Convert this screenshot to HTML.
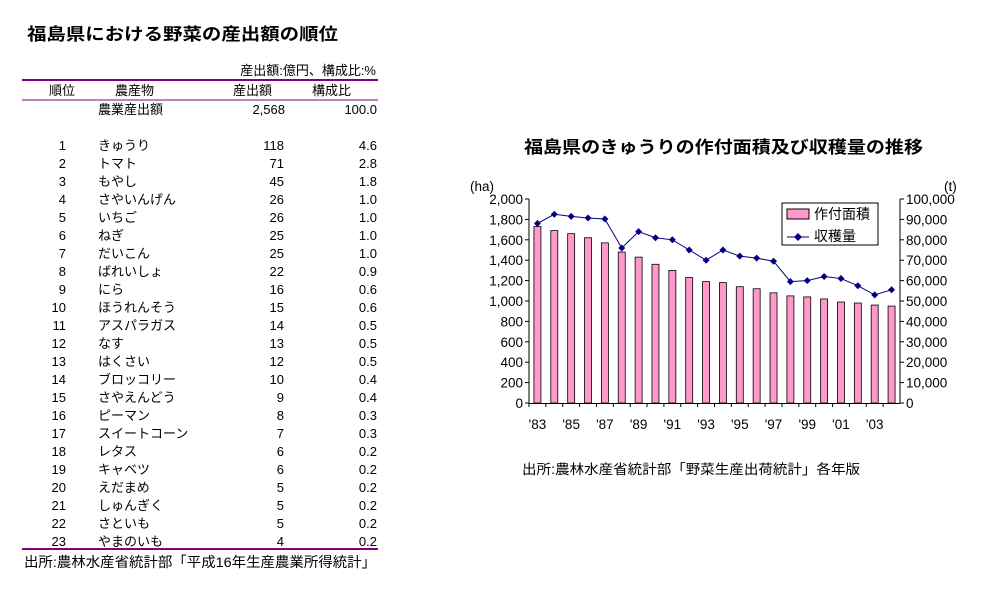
<!DOCTYPE html><html><head><meta charset="utf-8"><style>body{margin:0;background:#fff}svg{display:block}text{font-family:"Liberation Sans","Noto Sans CJK JP",sans-serif;fill:#000}</style></head><body>
<svg width="993" height="601" xmlns="http://www.w3.org/2000/svg">
<rect width="993" height="601" fill="#fff"/>
<text x="27" y="40" font-size="17" font-weight="bold" textLength="311" lengthAdjust="spacingAndGlyphs">福島県における野菜の産出額の順位</text>
<g font-size="13">
<text x="376" y="75" text-anchor="end">産出額:億円、構成比:%</text>
<line x1="22" y1="80" x2="378" y2="80" stroke="#800080" stroke-width="2"/>
<text x="49" y="95">順位</text><text x="115" y="95">農産物</text><text x="233" y="95">産出額</text><text x="312" y="95">構成比</text>
<line x1="22" y1="100" x2="378" y2="100" stroke="#800080" stroke-width="1"/>
<text x="98" y="114">農業産出額</text><text x="285" y="114" text-anchor="end">2,568</text><text x="377" y="114" text-anchor="end">100.0</text>
<g id="rows"></g>
<line x1="22" y1="549" x2="378" y2="549" stroke="#800080" stroke-width="2"/>
<text x="24" y="567" textLength="352" lengthAdjust="spacingAndGlyphs" font-size="14">出所:農林水産省統計部「平成16年生産農業所得統計」</text>
</g>
<text x="524" y="153" font-size="17" font-weight="bold" textLength="399" lengthAdjust="spacingAndGlyphs">福島県のきゅうりの作付面積及び収穫量の推移</text>
<g font-size="13.5">
<text x="470" y="191">(ha)</text><text x="944" y="191">(t)</text>
<g id="lt" text-anchor="end"></g><g id="rt"></g><g id="xl" text-anchor="middle"></g>
<g id="bars"></g>
<polyline id="pl" fill="none" stroke="#000080" stroke-width="1"/>
<g id="mk"></g>
<line x1="529" y1="199" x2="529" y2="403" stroke="#000"/>
<line x1="900" y1="199" x2="900" y2="403" stroke="#000"/>
<line x1="529" y1="403.5" x2="900" y2="403.5" stroke="#000"/>
<g id="tk" stroke="#000"></g>
<rect x="782" y="203" width="96" height="42" fill="#fff" stroke="#000"/>
<rect x="787" y="209" width="22" height="10" fill="#ff99cc" stroke="#000"/>
<text x="814" y="219" font-size="14">作付面積</text>
<line x1="787" y1="237" x2="809" y2="237" stroke="#000080"/>
<path d="M798 233L802 237L798 241L794 237Z" fill="#000080"/>
<text x="814" y="241" font-size="14">収穫量</text>
<text x="522" y="474" textLength="338" lengthAdjust="spacingAndGlyphs">出所:農林水産省統計部「野菜生産出荷統計」各年版</text>
</g>
</svg>
<script>
const ns="http://www.w3.org/2000/svg";
function el(p,t,a,txt){const e=document.createElementNS(ns,t);for(const k in a)e.setAttribute(k,a[k]);if(txt!==undefined)e.textContent=txt;document.getElementById(p).appendChild(e);return e;}
const rows=[["きゅうり",118,"4.6"],["トマト",71,"2.8"],["もやし",45,"1.8"],["さやいんげん",26,"1.0"],["いちご",26,"1.0"],["ねぎ",25,"1.0"],["だいこん",25,"1.0"],["ばれいしょ",22,"0.9"],["にら",16,"0.6"],["ほうれんそう",15,"0.6"],["アスパラガス",14,"0.5"],["なす",13,"0.5"],["はくさい",12,"0.5"],["ブロッコリー",10,"0.4"],["さやえんどう",9,"0.4"],["ピーマン",8,"0.3"],["スイートコーン",7,"0.3"],["レタス",6,"0.2"],["キャベツ",6,"0.2"],["えだまめ",5,"0.2"],["しゅんぎく",5,"0.2"],["さといも",5,"0.2"],["やまのいも",4,"0.2"]];
rows.forEach((r,i)=>{const y=150+i*18;el("rows","text",{x:66,y:y,"text-anchor":"end"},i+1);el("rows","text",{x:98,y:y},r[0]);el("rows","text",{x:284,y:y,"text-anchor":"end"},r[1]);el("rows","text",{x:377,y:y,"text-anchor":"end"},r[2]);});
for(let k=0;k<=10;k++){const y=403-k*20.4;el("lt","text",{x:523,y:y+5},(k*200).toLocaleString("en-US"));el("rt","text",{x:906,y:y+5},(k*10000).toLocaleString("en-US"));el("tk","line",{x1:525,y1:y,x2:529,y2:y});el("tk","line",{x1:900,y1:y,x2:904,y2:y});}
const h=[1730,1690,1660,1620,1570,1480,1430,1360,1300,1230,1190,1180,1140,1120,1080,1050,1040,1020,990,980,960,950];
const t=[88000,92500,91500,90700,90200,76000,84000,81000,80000,75000,70000,75000,72000,71000,69500,59500,60000,62000,61000,57500,53000,55500];
const w=371/22;let pts=[];
h.forEach((v,i)=>{const cx=529+w*(i+0.5);el("bars","rect",{x:cx-3.5,y:403-v*0.102,width:7,height:v*0.102,fill:"#ff99cc",stroke:"#000","stroke-width":0.8});const ly=403-t[i]*0.00204;pts.push(cx+","+ly);el("mk","path",{d:`M${cx} ${ly-3.5}L${cx+3.5} ${ly}L${cx} ${ly+3.5}L${cx-3.5} ${ly}Z`,fill:"#000080"});el("tk","line",{x1:529+w*i,y1:403,x2:529+w*i,y2:407});if(i%2==0)el("xl","text",{x:cx,y:429},"'"+String((83+i)%100).padStart(2,"0"));});
document.getElementById("pl").setAttribute("points",pts.join(" "));
</script>
</body></html>
